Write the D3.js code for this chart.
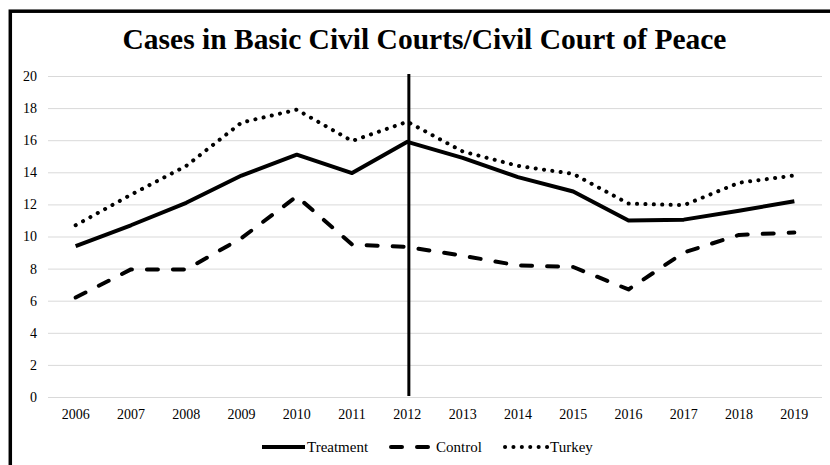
<!DOCTYPE html>
<html>
<head>
<meta charset="utf-8">
<script src="https://cdn.jsdelivr.net/npm/d3@7"></script>
<style>
  body { margin: 0; background: #fff; }
</style>
</head>
<body>
<div id="chart"></div>
<script>
var years = ["2006", "2007", "2008", "2009", "2010", "2011", "2012", "2013", "2014", "2015", "2016", "2017", "2018", "2019"];
var treatment = [9.4, 10.7, 12.1, 13.8, 15.1, 13.95, 15.9, 14.9, 13.7, 12.8, 11.0, 11.05, 11.6, 12.2];
var control = [6.2, 7.95, 7.95, 9.9, 12.5, 9.5, 9.35, 8.8, 8.2, 8.1, 6.7, 9.0, 10.1, 10.25];
var turkey = [10.7, 12.6, 14.4, 17.1, 17.9, 15.95, 17.15, 15.3, 14.4, 13.9, 12.05, 11.95, 13.35, 13.8];
var yTicks = [0, 2, 4, 6, 8, 10, 12, 14, 16, 18, 20];
var breakYear = "2012";

var series = [
  {name: "Treatment", values: treatment, dash: null, cap: "butt"},
  {name: "Control", values: control, dash: "11 15", cap: "round"},
  {name: "Turkey", values: turkey, dash: "0.1 8.3", cap: "round"}
];

var serif = "'Liberation Serif', 'Tinos', 'Times New Roman', serif";
var w = 830, h = 465;
var m = {top: 76, right: 8, bottom: 68, left: 48};

var svg = d3.select("#chart").append("svg").attr("width", w).attr("height", h);

// frame, cropped at right and bottom like the picture
svg.append("rect").attr("x", 10.3).attr("y", 11.2).attr("width", 840).attr("height", 480)
  .attr("fill", "none").attr("stroke", "#000").attr("stroke-width", 3.5);

svg.append("text").attr("x", 424.5).attr("y", 48.5).attr("text-anchor", "middle")
  .style("font-family", serif).style("font-size", "29.5px").style("font-weight", "bold")
  .text("Cases in Basic Civil Courts/Civil Court of Peace");

var x = d3.scaleBand().domain(years).range([m.left, w - m.right]);
var y = d3.scaleLinear().domain([0, 20]).range([h - m.bottom, m.top]);
var cx = function(d) { return x(d) + x.bandwidth() / 2; };

var grid = svg.append("g");
grid.selectAll("line").data(yTicks).enter().append("line")
  .attr("x1", m.left).attr("x2", w - m.right)
  .attr("y1", function(d) { return y(d) + 0.5; }).attr("y2", function(d) { return y(d) + 0.5; })
  .attr("stroke", "#d9d9d9").attr("stroke-width", 1);

var yAxis = svg.append("g").attr("transform", "translate(" + (m.left - 11) + ",0)")
  .call(d3.axisLeft(y).tickValues(yTicks).tickSize(0).tickPadding(0));
yAxis.select(".domain").remove();
yAxis.selectAll("text").style("font-family", serif).style("font-size", "14px").attr("fill", "#000");

var xAxis = svg.append("g").attr("transform", "translate(0," + (h - m.bottom) + ")")
  .call(d3.axisBottom(x).tickSize(0).tickPadding(12));
xAxis.select(".domain").remove();
xAxis.selectAll("text").style("font-family", serif).style("font-size", "14px").attr("fill", "#000");

var line = d3.line().x(function(d, i) { return cx(years[i]); }).y(function(d) { return y(d); });

svg.selectAll("path.series").data(series).enter().append("path").attr("class", "series")
  .attr("d", function(d) { return line(d.values); })
  .attr("fill", "none").attr("stroke", "#000").attr("stroke-width", 4)
  .attr("stroke-linejoin", "round")
  .attr("stroke-linecap", function(d) { return d.cap; })
  .attr("stroke-dasharray", function(d) { return d.dash; });

// break line at 2012
svg.append("line").attr("x1", cx(breakYear) + 1.5).attr("x2", cx(breakYear) + 1.5)
  .attr("y1", y(20) - 2).attr("y2", y(0) - 1)
  .attr("stroke", "#000").attr("stroke-width", 3);

// legend
var legendX = [260, 389, 503];
var legend = svg.selectAll("g.legend").data(series).enter().append("g").attr("class", "legend")
  .attr("transform", function(d, i) { return "translate(" + legendX[i] + ",447)"; });
legend.append("line").attr("x1", 2).attr("x2", 45).attr("y1", 0).attr("y2", 0)
  .attr("stroke", "#000").attr("stroke-width", 4)
  .attr("stroke-linecap", function(d) { return d.cap; })
  .attr("stroke-dasharray", function(d) { return d.dash; });
legend.append("text").attr("x", 47).attr("y", 4.5)
  .style("font-family", serif).style("font-size", "15px")
  .text(function(d) { return d.name; });
</script>
</body>
</html>
